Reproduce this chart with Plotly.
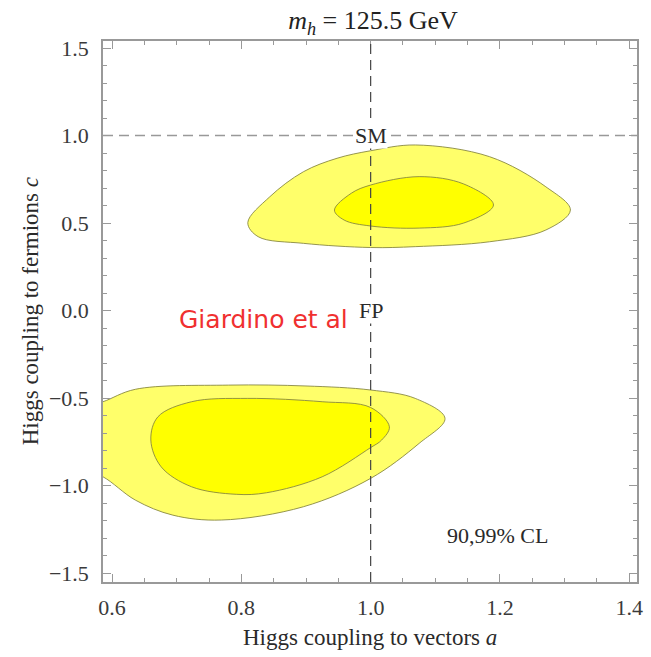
import plotly.graph_objects as go

# ---- data ----
upper_outer_x = [0.810, 0.844, 0.896, 0.948, 1.000, 1.069, 1.184, 1.271, 1.309, 1.271, 1.184, 1.069, 1.000, 0.896, 0.826, 0.810]
upper_outer_y = [0.502, 0.650, 0.793, 0.870, 0.913, 0.946, 0.879, 0.707, 0.574, 0.460, 0.393, 0.365, 0.360, 0.384, 0.422, 0.502]

upper_inner_x = [0.944, 0.970, 1.000, 1.075, 1.144, 1.190, 1.144, 1.075, 1.000, 0.959, 0.944]
upper_inner_y = [0.574, 0.670, 0.717, 0.765, 0.723, 0.603, 0.500, 0.471, 0.483, 0.517, 0.574]

lower_outer_x = [0.550, 0.586, 0.636, 0.780, 0.900, 1.000, 1.069, 1.115, 1.075, 1.000, 0.896, 0.769, 0.694, 0.636, 0.586, 0.550, 0.550]
lower_outer_y = [-0.560, -0.521, -0.450, -0.426, -0.431, -0.454, -0.502, -0.616, -0.759, -0.959, -1.121, -1.197, -1.169, -1.083, -0.950, -0.900, -0.560]

lower_inner_x = [0.660, 0.671, 0.723, 0.810, 0.925, 1.000, 1.029, 1.017, 1.000, 0.925, 0.839, 0.792, 0.723, 0.676, 0.660]
lower_inner_y = [-0.740, -0.607, -0.521, -0.502, -0.521, -0.554, -0.664, -0.740, -0.783, -0.950, -1.041, -1.050, -1.007, -0.893, -0.740]

x_ticks = [0.6, 0.8, 1.0, 1.2, 1.4]
y_ticks = [-1.5, -1.0, -0.5, 0.0, 0.5, 1.0, 1.5]
x_range = [0.586, 1.412]
y_range = [-1.551, 1.54]

OUTER = "#FFFF6A"
INNER = "#FFFF00"
EDGE = "rgba(130,130,60,0.85)"
SERIF = "Liberation Serif, Times New Roman, serif"
TXT = "#2a2a2a"

fig = go.Figure()

for xs, ys, col in [(upper_outer_x, upper_outer_y, OUTER),
                    (lower_outer_x, lower_outer_y, OUTER),
                    (upper_inner_x, upper_inner_y, INNER),
                    (lower_inner_x, lower_inner_y, INNER)]:
    fig.add_trace(go.Scatter(x=xs, y=ys, mode="lines", fill="toself",
                             fillcolor=col, line=dict(color=EDGE, width=1, shape="spline", smoothing=1.0),
                             hoverinfo="skip", showlegend=False))

# reference lines
fig.add_shape(type="line", xref="x", yref="paper", x0=1.0, x1=1.0, y0=0, y1=1,
              line=dict(color="#444444", width=1.2, dash="10px,6px"), layer="above")
fig.add_shape(type="line", xref="paper", yref="y", x0=0, x1=1, y0=1.0, y1=1.0,
              line=dict(color="#999999", width=1.5, dash="10px,6px"), layer="above")

# labels
fig.add_annotation(x=1.0, y=1.0, text="SM", showarrow=False, bgcolor="white",
                   font=dict(family=SERIF, size=22, color=TXT), borderpad=0)
fig.add_annotation(x=1.0, y=0.0, text="FP", showarrow=False, bgcolor="white",
                   font=dict(family=SERIF, size=22, color=TXT), borderpad=0)
fig.add_annotation(x=0.835, y=-0.05, text="Giardino et al", showarrow=False,
                   font=dict(family="DejaVu Sans, Verdana, sans-serif", size=25, color="#F03030"))
fig.add_annotation(x=1.196, y=-1.283, text="90,99% CL", showarrow=False,
                   font=dict(family=SERIF, size=22, color=TXT))

# axis titles
fig.add_annotation(xref="paper", yref="paper", x=0.5, y=-55/541, yanchor="middle",
                   text="Higgs coupling to vectors <i>a</i>", showarrow=False,
                   font=dict(family=SERIF, size=23, color=TXT))
fig.add_annotation(xref="paper", yref="paper", x=-73/540, y=0.5, xanchor="center", textangle=-90,
                   text="Higgs coupling to fermions <i>c</i>", showarrow=False,
                   font=dict(family=SERIF, size=23, color=TXT))

axis_common = dict(showgrid=False, zeroline=False, showline=True, linecolor="#999999", linewidth=1.5,
                   mirror="allticks", ticks="inside", ticklen=8, tickcolor="#999999", tickwidth=1,
                   tickfont=dict(family=SERIF, size=22, color="#3a3a3a"))

fig.update_xaxes(range=x_range, tickvals=x_ticks, ticktext=[f"{v:.1f}" for v in x_ticks],
                 minor=dict(ticks="inside", dtick=0.05, tick0=0.6, ticklen=4, tickcolor="#999999"),
                 ticklabelstandoff=5, **axis_common)
fig.update_yaxes(range=y_range, tickvals=y_ticks,
                 ticktext=[(f"{v:.1f}" if v >= 0 else "\u2212" + f"{abs(v):.1f}") for v in y_ticks],
                 minor=dict(ticks="inside", dtick=0.1, tick0=0.0, ticklen=4, tickcolor="#999999"),
                 ticklabelstandoff=8, **axis_common)

fig.update_layout(
    width=651, height=657,
    margin=dict(l=103, r=8, t=41, b=75),
    plot_bgcolor="white", paper_bgcolor="white",
    title=dict(text="<i>m</i><sub><i>h</i></sub> = 125.5 GeV", x=(103 + 643) / 2 / 651, xanchor="center",
               y=1 - 20 / 657, yanchor="middle", yref="container",
               font=dict(family=SERIF, size=26, color="#222222")),
)

fig.write_html("out.html")
